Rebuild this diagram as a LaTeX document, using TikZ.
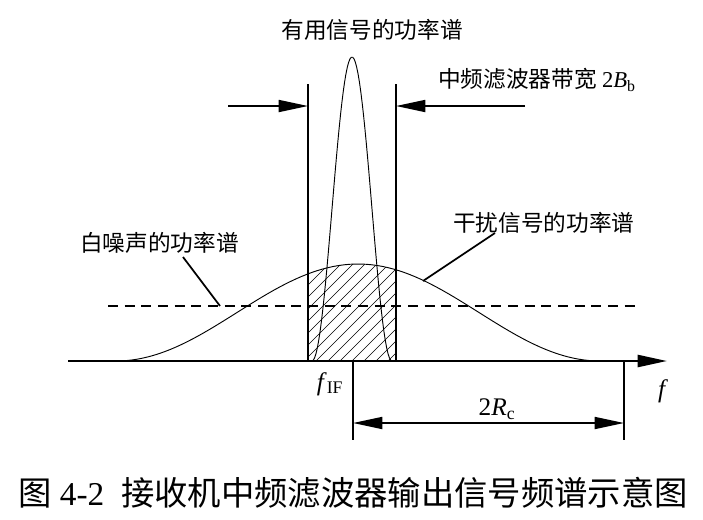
\documentclass[tikz,border=0pt]{standalone}
\usepackage{fontspec}
\setmainfont{Liberation Serif}
\newfontfamily\cjk{Noto Sans CJK SC}
\usetikzlibrary{arrows.meta}

\tikzset{
    lbl/.style={font=\cjk\fontsize{17}{20}\selectfont, inner sep=0pt},
    sym/.style={font=\fontsize{19}{22}\selectfont, inner sep=0pt},
    capt/.style={font=\fontsize{25}{28}\selectfont, inner sep=0pt},
    bold line/.style={line width=1.8pt},
    thin curve/.style={line width=0.7pt},
    lead/.style={line width=1.3pt},
    dimarrow/.style={line width=1.3pt, -{Triangle[length=22pt,width=9pt]}},
    hatch/.style={line width=0.5pt},
}

\begin{document}
\begin{tikzpicture}[x=0.75pt, y=-0.75pt]
    \useasboundingbox (0,0) rectangle (703,519);

    \coordinate (o) at (68,361);
    \coordinate (fend) at (667,361);
    \coordinate (bl) at (308,361);
    \coordinate (blt) at (308,84);
    \coordinate (br) at (396,361);
    \coordinate (brt) at (396,84);
    \coordinate (c) at (353,361);
    \coordinate (cdown) at (353,440);
    \coordinate (r) at (624,361);
    \coordinate (rdown) at (624,440);
    \coordinate (la) at (228,106);
    \coordinate (ra) at (525,106);
    \coordinate (nl) at (183,257);
    \coordinate (nlend) at (220,306);
    \coordinate (il) at (495,233);
    \coordinate (ilend) at (423,281);

    % hatched band
    \begin{scope}
        \clip (bl) -- plot[domain=308:396, samples=30]
            (\x, {361-97*(1+cos((\x-358)/242*180))/2}) -- (br) -- cycle;
        \foreach \k in {0,...,17}
            \draw[hatch] (208+12*\k, 361) -- ++(100,-100);
    \end{scope}

    \draw[thin curve] plot[domain=116:600, samples=90]
        (\x, {361-97*(1+cos((\x-358)/242*180))/2});
    \draw[thin curve] plot[domain=312:392, samples=60]
        (\x, {361-304*(1+cos((\x-352)/40*180))/2});

    \draw[bold line, dash pattern=on 7.5pt off 5pt] (108,306) -- (636,306);

    \draw[bold line, -{Triangle[length=22pt,width=9pt]}] (o) -- (fend);
    \draw[bold line] (bl) -- (blt);
    \draw[bold line] (br) -- (brt);
    \draw[bold line] (c) -- (cdown);
    \draw[bold line] (r) -- (rdown);

    \draw[dimarrow] (la) -- (la -| bl);
    \draw[dimarrow] (ra) -- (ra -| br);
    \draw[dimarrow, {Triangle[length=22pt,width=9pt]}-{Triangle[length=22pt,width=9pt]}]
        (353,423) -- (624,423);

    \node[lbl] (sig) at (372,30) {有用信号的功率谱};
    \node[lbl, anchor=west] (bw) at (438,80)
        {中频滤波器带宽 {\fontspec{Liberation Serif}2\textit{B}\textsubscript{b}}};
    \node[lbl, anchor=west] (noise) at (80,243) {白噪声的功率谱};
    \node[lbl, anchor=west] (intf) at (453,223) {干扰信号的功率谱};
    \node[sym] (fif) at (330,384) {\textit{f}\textsubscript{IF}};
    \node[sym] (f) at (663,391) {\textit{f}};
    \node[sym] (rc) at (497,409) {2\textit{R}\textsubscript{c}};

    \draw[lead] (nl) -- (nlend);
    \draw[lead] (il) -- (ilend);

    \node[capt] (cap) at (353,493) {{\cjk 图} 4-2\ \ {\cjk 接收机中频滤波器输出信号频谱示意图}};
\end{tikzpicture}
\end{document}
